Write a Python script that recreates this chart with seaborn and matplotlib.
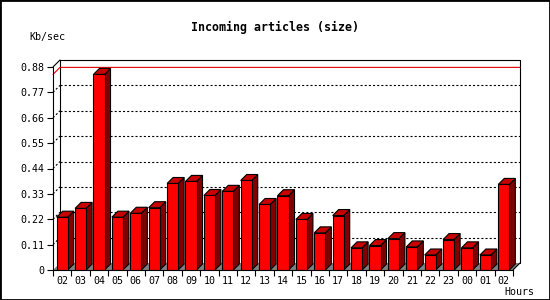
import numpy as np
import pandas as pd
import seaborn as sns
import matplotlib.pyplot as plt
from matplotlib.patches import Polygon, Rectangle

hours = ['02', '03', '04', '05', '06', '07', '08', '09', '10', '11', '12', '13',
         '14', '15', '16', '17', '18', '19', '20', '21', '22', '23', '00', '01', '02']
kb_sec = [0.229, 0.267, 0.848, 0.229, 0.246, 0.270, 0.375, 0.384, 0.323, 0.341,
          0.388, 0.284, 0.322, 0.219, 0.161, 0.236, 0.096, 0.106, 0.136, 0.100,
          0.065, 0.132, 0.096, 0.065, 0.371]
y_ticks = [0, 0.11, 0.22, 0.33, 0.44, 0.55, 0.66, 0.77, 0.88]
y_labels = ['0', '0.11', '0.22', '0.33', '0.44', '0.55', '0.66', '0.77', '0.88']

df = pd.DataFrame({'slot': range(len(hours)), 'kb': kb_sec})

sns.set_style('white', {'axes.edgecolor': 'black', 'xtick.color': 'black',
                        'ytick.color': 'black', 'text.color': 'black'})
plt.rcParams['font.family'] = ['DejaVu Sans Mono']
plt.rcParams['lines.scale_dashes'] = False

fig = plt.figure(figsize=(5.5, 3), dpi=100)
ax = fig.add_axes([53 / 550, 30 / 300, 460 / 550, 203 / 300])
ax.set_facecolor('none')

sns.barplot(data=df, x='slot', y='kb', color='#ff0000', saturation=1, width=0.6,
            edgecolor='black', linewidth=0.8, ax=ax, zorder=6)
bars = list(ax.patches)

n = len(hours)
x_lo, x_hi = -0.5, n - 0.5
ax.set_xlim(x_lo, x_hi)
ax.set_ylim(0, 0.88)

# pixel -> data conversion for the fake depth
p0 = ax.transData.transform((0, 0))
p1 = ax.transData.transform((1, 1))
ux, uy = p1[0] - p0[0], p1[1] - p0[1]
bdx, bdy = 6 / ux, 6 / uy   # bar depth
fdx, fdy = 7 / ux, 7 / uy   # plane depth

lw = 0.8
# back wall frame
ax.plot([x_lo + fdx, x_lo + fdx, x_hi + fdx, x_hi + fdx],
        [fdy, 0.88 + fdy, 0.88 + fdy, fdy], color='black', lw=lw, clip_on=False, zorder=1)
ax.plot([x_lo, x_lo + fdx], [0.88, 0.88 + fdy], color='black', lw=lw, clip_on=False, zorder=1)
ax.plot([x_hi, x_hi + fdx], [0, fdy], color='black', lw=lw, clip_on=False, zorder=3)

# dotted grid on back wall and left wall
for v in y_ticks[1:-1]:
    ax.plot([x_lo + fdx, x_hi + fdx], [v + fdy, v + fdy], color='black', lw=lw,
            dashes=(1.5, 1.5), clip_on=False, zorder=1)
    ax.plot([x_lo, x_lo + fdx], [v, v + fdy], color='black', lw=lw,
            dashes=(1.5, 1.5), clip_on=False, zorder=1)

# max line
vmax = max(kb_sec)
ax.plot([x_lo, x_lo + fdx, x_hi + fdx], [vmax, vmax + fdy, vmax + fdy],
        color='#e00000', lw=lw, clip_on=False, zorder=2)

# floor
ax.add_patch(Polygon([(x_lo, 0), (x_hi, 0), (x_hi + fdx, fdy), (x_lo + fdx, fdy)],
                     closed=True, facecolor='#808080', edgecolor='none', zorder=2,
                     clip_on=False))

# 3d faces of the bars
for b in bars:
    x0, w, h = b.get_x(), b.get_width(), b.get_height()
    ax.add_patch(Polygon([(x0 + w, 0), (x0 + w + bdx, bdy), (x0 + w + bdx, h + bdy), (x0 + w, h)],
                         closed=True, facecolor='#800000', edgecolor='black', lw=lw,
                         zorder=5, clip_on=False))
    ax.add_patch(Polygon([(x0, h), (x0 + w, h), (x0 + w + bdx, h + bdy), (x0 + bdx, h + bdy)],
                         closed=True, facecolor='#c80000', edgecolor='black', lw=lw,
                         zorder=5, clip_on=False))

for s in ['top', 'right']:
    ax.spines[s].set_visible(False)
for s in ['left', 'bottom']:
    ax.spines[s].set_linewidth(lw)
    ax.spines[s].set_zorder(7)

ax.set_yticks(y_ticks, y_labels)
ax.set_xticks(range(n), hours)
ax.set_xticks(np.arange(n + 1) - 0.5, minor=True)
ax.tick_params(axis='y', left=True, length=4, width=lw, pad=2, labelsize=7.2)
ax.tick_params(axis='x', which='major', bottom=True, length=0, pad=4, labelsize=7.2)
ax.tick_params(axis='x', which='minor', bottom=True, length=4, width=lw)
ax.set_xlabel('')
ax.set_ylabel('')

fig.text(275 / 550, 1 - 27 / 300, 'Incoming articles (size)', ha='center', va='center',
         fontsize=8.4, fontweight='bold')
fig.text(47 / 550, 1 - 37 / 300, 'Kb/sec', ha='center', va='center', fontsize=7.2)
fig.text(519 / 550, 1 - 292 / 300, 'Hours', ha='center', va='center', fontsize=7.2)

fig.patches.append(Rectangle((0, 0), 1, 1, transform=fig.transFigure, fill=False,
                             edgecolor='black', lw=2))

fig.savefig('out.png', dpi=100)
